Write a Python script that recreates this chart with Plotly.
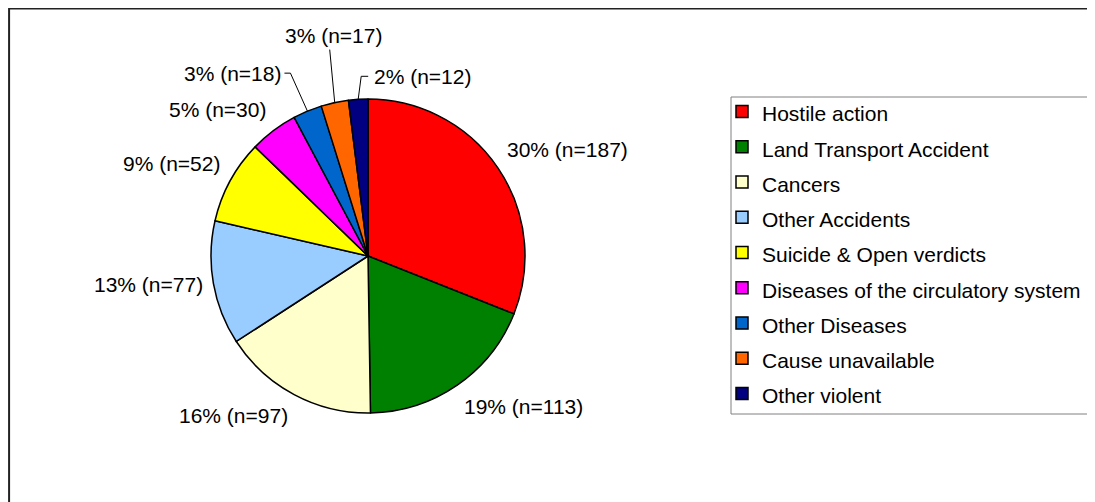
import math
import plotly.graph_objects as go

categories = ["Hostile action", "Land Transport Accident", "Cancers", "Other Accidents",
              "Suicide & Open verdicts", "Diseases of the circulatory system",
              "Other Diseases", "Cause unavailable", "Other violent"]
counts = [187, 113, 97, 77, 52, 30, 18, 17, 12]
percents = [30, 19, 16, 13, 9, 5, 3, 3, 2]
colors = ["#FF0000", "#008000", "#FFFFCC", "#99CCFF", "#FFFF00",
          "#FF00FF", "#0066CC", "#FF6600", "#000080"]

# figure sits 8px into the page (default body margin)
W, H = 1087, 494
CX, CY, R = 360, 248, 157          # pie centre / radius in px
FONT = 'Liberation Sans, Arial'
TXT = 21

# leader lines for the thin slices: elbow, line end, text anchor (px offsets from slice edge)
leaders = {
    6: dict(pts=[(-17, -38), (-23, -38)], text=(-24, -38), xa='right', ya='middle'),
    7: dict(pts=[(-5, -53)], text=(-1, -54), xa='center', ya='bottom'),
    8: dict(pts=[(3, -23), (10, -23)], text=(14, -23), xa='left', ya='middle'),
}


def px(x):
    return x / W


def py(y):
    return 1 - y / H


legend_names = [f"<span style='font-size:{TXT}px'>{c}</span>" for c in categories]

fig = go.Figure()
fig.add_trace(go.Pie(
    labels=legend_names,
    values=counts,
    textinfo='none',
    marker=dict(colors=colors, line=dict(color='black', width=1.5)),
    sort=False,
    direction='clockwise',
    rotation=0,
    hoverinfo='percent+value',
    domain=dict(x=[px(CX - R), px(CX + R)], y=[py(CY + R), py(CY - R)]),
))

# data labels placed round the pie at each slice's mid angle
total = sum(counts)
cum = 0
for i, (p, n) in enumerate(zip(percents, counts)):
    mid = (cum + n / 2) / total * 2 * math.pi
    cum += n
    s, c = math.sin(mid), math.cos(mid)
    label = f"{p}% (n={n})"
    if i in leaders:
        ex, ey = CX + R * s, CY - R * c
        ld = leaders[i]
        path = f"M {px(ex)},{py(ey)}" + "".join(
            f" L {px(ex + dx)},{py(ey + dy)}" for dx, dy in ld['pts'])
        fig.add_shape(type='path', xref='paper', yref='paper', path=path,
                      line=dict(color='black', width=1))
        tx, ty = ex + ld['text'][0], ey + ld['text'][1]
        xa, ya = ld['xa'], ld['ya']
    else:
        tx, ty = CX + (R + 9) * s, CY - (R + 9) * c
        xa = 'left' if s > 0 else 'right'
        ya = 'middle' if abs(c) < 0.35 else ('bottom' if c > 0 else 'top')
    fig.add_annotation(x=px(tx), y=py(ty), xref='paper', yref='paper', text=label,
                       showarrow=False, xanchor=xa, yanchor=ya,
                       font=dict(size=TXT, color='black', family=FONT))

# outer frame
fig.add_shape(type='rect', xref='paper', yref='paper',
              x0=0.001, x1=1.05, y0=-0.05, y1=0.999,
              line=dict(color='#222222', width=2), fillcolor='rgba(0,0,0,0)')
# legend box (runs off the right edge like the original)
fig.add_shape(type='rect', xref='paper', yref='paper',
              x0=px(723), x1=1.05, y0=py(406), y1=py(89),
              line=dict(color='#808080', width=1), fillcolor='rgba(0,0,0,0)')

fig.update_layout(
    width=W, height=H,
    margin=dict(l=0, r=0, t=0, b=0),
    paper_bgcolor='white',
    font=dict(family=FONT, color='black'),
    showlegend=True,
    legend=dict(
        x=px(724), y=py(81), xanchor='left', yanchor='top',
        font=dict(size=24.8, family=FONT, color='black'),
        borderwidth=0, bgcolor='rgba(0,0,0,0)',
        indentation=-10,
    ),
)

fig.write_html("out.html")
